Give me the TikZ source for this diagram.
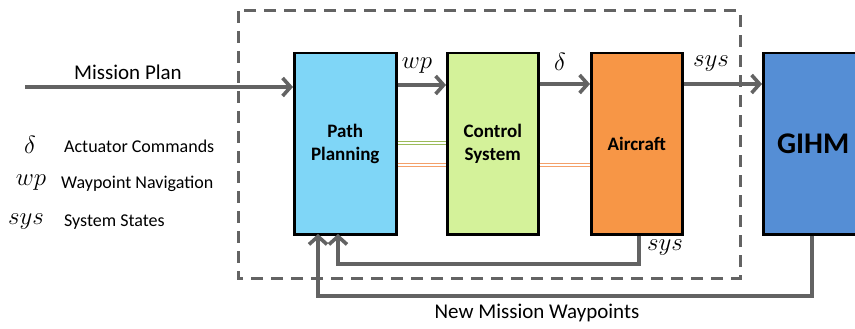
\documentclass[tikz,border=0pt]{standalone}
\usepackage{fontspec}
\setmainfont{Carlito}
\usetikzlibrary{arrows.meta}
\definecolor{linegray}{HTML}{636363}
\definecolor{ppblue}{HTML}{7FD6F7}
\definecolor{csgreen}{HTML}{D4F29A}
\definecolor{acorange}{HTML}{F79646}
\definecolor{gihmblue}{HTML}{558ED5}
\definecolor{dgreen}{HTML}{9BBB59}
\definecolor{dorange}{HTML}{F4A06A}
\tikzset{
  x=1pt, y=-1pt,
  block/.style={draw=black, line width=2.5pt, anchor=north west, inner sep=0pt,
    font=\bfseries\fontsize{19}{23}\selectfont, align=center},
  flow/.style={draw=linegray, line width=3.6pt,
    -{Straight Barb[length=8pt,width=18pt,line width=3.6pt]}},
  lbl/.style={font=\fontsize{21}{25}\selectfont, inner sep=0pt},
  mlbl/.style={font=\fontsize{24}{28}\selectfont, inner sep=0pt},
  legtext/.style={font=\fontsize{18}{22}\selectfont, inner sep=0pt, anchor=west},
  link/.style={line width=0.9pt, double=white, double distance=2pt},
}
\begin{document}
\begin{tikzpicture}
\useasboundingbox (0,0) rectangle (855,329);

% dashed boundary around the onboard loop
\draw[linegray, line width=3pt, dash pattern=on 12pt off 8pt] (238,11) rectangle (740,278);

% blocks
\node[block, fill=ppblue, minimum width=102pt, minimum height=181pt] (pp) at (293,52) {Path\\Planning};
\node[block, fill=csgreen, minimum width=91pt, minimum height=181pt] (cs) at (446,52) {Control\\System};
\node[block, fill=acorange, minimum width=91pt, minimum height=181pt] (ac) at (590,52) {Aircraft};
\node[block, fill=gihmblue, minimum width=100pt, minimum height=181pt,
  font=\bfseries\fontsize{30}{36}\selectfont] (gihm) at (762,52) {GIHM};

% forward signals
\coordinate (start) at (25,87);
\draw[flow] (start) -- (start -| pp.west);
\node[lbl] (mp) at (128,72) {Mission Plan};

\draw[flow] ([yshift=-33pt]pp.north east) -- ([yshift=-33pt]cs.north west);
\node[mlbl] (wp) at (417,66) {$wp$};
\draw[flow] ([yshift=-32pt]cs.north east) -- ([yshift=-32pt]ac.north west);
\node[mlbl] (del) at (560,62) {$\delta$};
\draw[flow] ([yshift=-32pt]ac.north east) -- ([yshift=-32pt]gihm.north west);
\node[mlbl] (sysout) at (711,64) {$sys$};

% thin double links between blocks
\draw[link, dgreen] ([yshift=-91pt]pp.north east) -- ([yshift=-91pt]cs.north west);
\draw[link, dorange] ([yshift=-113pt]pp.north east) -- ([yshift=-113pt]cs.north west);
\draw[link, dorange] ([yshift=-113pt]cs.north east) -- ([yshift=-113pt]ac.north west);

% state feedback from the aircraft
\coordinate (fa) at (639,264);
\draw[flow] (ac.south -| fa) -- (fa) -- (338,264) -- (338,234);
\node[mlbl] (sysfb) at (665,248) {$sys$};

% new waypoints from the GIHM
\coordinate (fg) at (812,296);
\draw[flow] (gihm.south -| fg) -- (fg) -- (318,296) -- (318,234);
\node[lbl] (nmw) at (537,313) {New Mission Waypoints};

% legend
\node[mlbl] (ld) at (30,145) {$\delta$};
\node[legtext] (ldt) at (64,146) {Actuator Commands};
\node[mlbl] (lw) at (31,183) {$wp$};
\node[legtext] (lwt) at (61,184) {Waypoint Navigation};
\node[mlbl] (ls) at (26,222) {$sys$};
\node[legtext] (lst) at (64,222) {System States};
\end{tikzpicture}
\end{document}
